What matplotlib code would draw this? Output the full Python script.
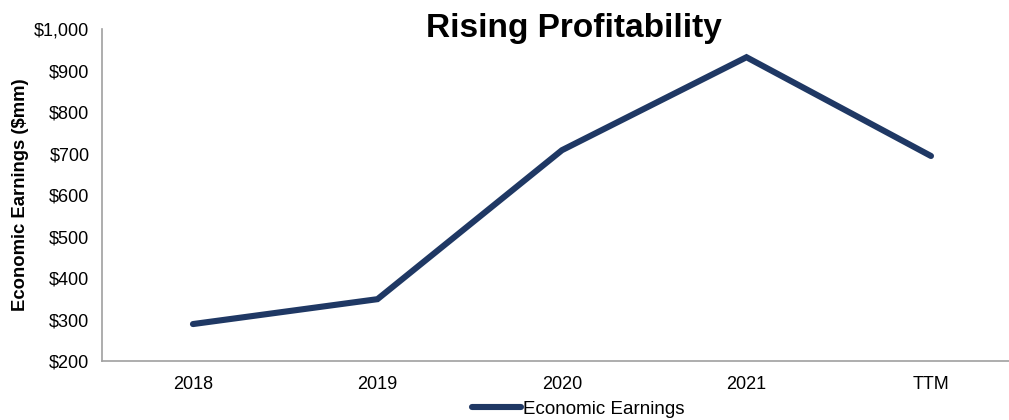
import matplotlib
matplotlib.use("Agg")
import matplotlib.pyplot as plt
from matplotlib.ticker import FuncFormatter

# data
periods = ["2018", "2019", "2020", "2021", "TTM"]
economic_earnings = [289, 349, 708, 932, 694]

plt.rcParams['font.family'] = ['Liberation Sans', 'DejaVu Sans']

fig = plt.figure(figsize=(10.09, 4.2), dpi=100)
ax = fig.add_axes([102 / 1009, 1 - 361 / 420, 924 / 1009, 332 / 420])

ax.plot(periods, economic_earnings, color='#1f3864', linewidth=4.4,
        solid_capstyle='round', solid_joinstyle='miter', label='Economic Earnings')

ax.set_xlim(-0.493, 4.515)
ax.set_ylim(200, 1000)
ax.set_yticks(range(200, 1001, 100))
ax.yaxis.set_major_formatter(FuncFormatter(lambda v, p: f"${v:,.0f}"))
ax.tick_params(length=0, labelsize=13, pad=9)
ax.tick_params(axis='x', pad=11)

for side in ['top', 'right']:
    ax.spines[side].set_visible(False)
for side in ['left', 'bottom']:
    ax.spines[side].set_color('#a0a0a0')
    ax.spines[side].set_linewidth(1.2)

ax.set_ylabel("Economic Earnings ($mm)", fontsize=13.3, fontweight='bold', labelpad=4)
fig.text(574 / 1009, 1 - 29 / 420, "Rising Profitability", fontsize=24,
         fontweight='bold', ha='center', va='center')

fig.legend(loc='center', bbox_to_anchor=(578 / 1009, 1 - 409 / 420), frameon=False,
           fontsize=13.5, handlelength=2.6, handletextpad=0.1)

fig.savefig("out.png", dpi=100)
